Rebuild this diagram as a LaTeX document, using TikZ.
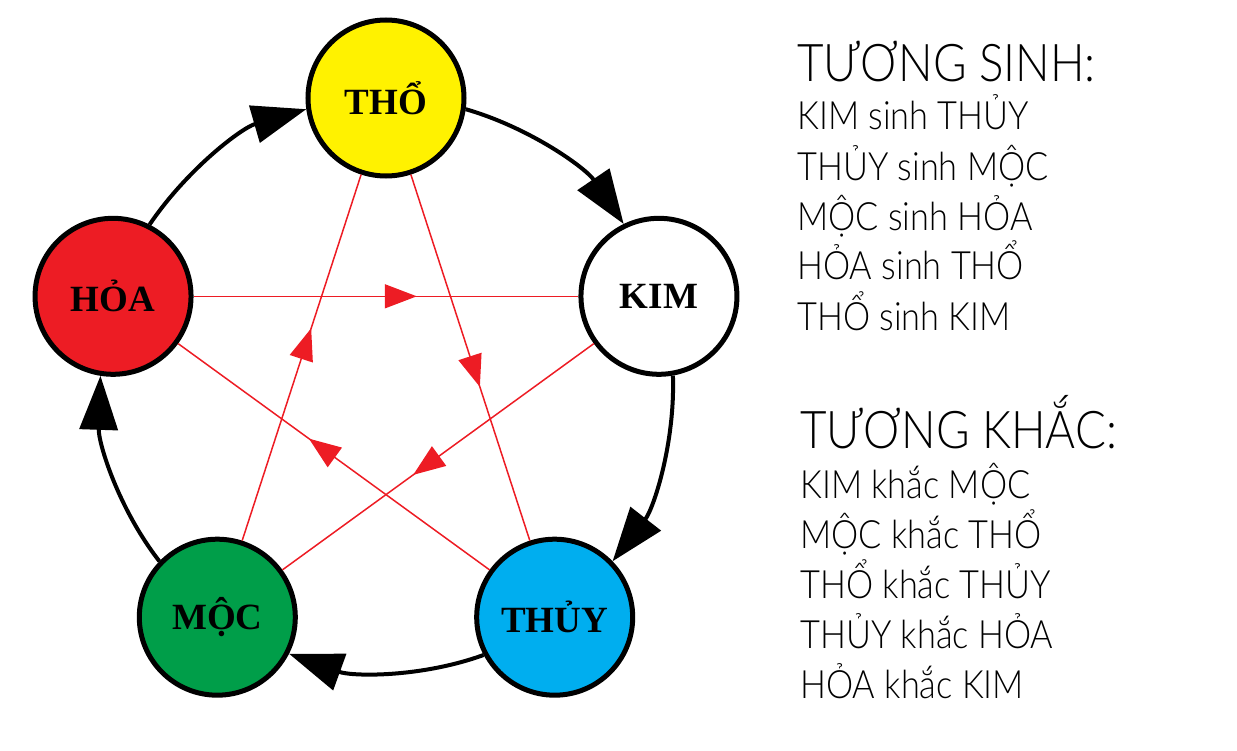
\documentclass[tikz,border=0pt]{standalone}
\usepackage{fontspec}
\setmainfont{Lato}[UprightFont={* Light}, FakeStretch=0.88]
\newfontfamily\elemfont{Liberation Serif}
\usetikzlibrary{arrows.meta,decorations.markings}

\definecolor{thoYellow}{RGB}{255,242,0}
\definecolor{hoaRed}{RGB}{237,28,36}
\definecolor{mocGreen}{RGB}{0,158,73}
\definecolor{thuyBlue}{RGB}{0,174,239}

\begin{document}
\begin{tikzpicture}[x=0.5pt, y=0.5pt,
    elem/.style={circle, draw=black, line width=2.5pt, minimum size=78pt, inner sep=0pt,
        font=\elemfont\bfseries\fontsize{18.5}{20}\selectfont},
    sinh/.style={line width=2pt, -{Triangle[length=27pt,width=19pt]}, looseness=0.88},
    khac/.style={hoaRed, line width=0.75pt, postaction={decorate},
        decoration={markings, mark=at position 0.58 with {\arrow{Triangle[length=16pt,width=12pt]}}}},
    head/.style={anchor=base west, inner sep=0pt, font=\fontsize{26}{30}\selectfont},
    txt/.style={anchor=base west, inner sep=0pt, font=\fontsize{19.5}{22}\selectfont}]
    \useasboundingbox (-386,-365) rectangle (851,385);

    % Five elements
    \foreach \n/\a/\c/\t in {tho/90/thoYellow/THỔ, kim/18/white/KIM, thuy/-54/thuyBlue/THỦY,
                             moc/-126/mocGreen/MỘC, hoa/162/hoaRed/HỎA}
        \node[elem, fill=\c] (\n) at (\a:287) {\t};

    % Tuong khac (star)
    \foreach \a/\b in {kim/moc, moc/tho, tho/thuy, thuy/hoa, hoa/kim}
        \draw[khac] (\a) -- (\b);

    % Tuong sinh (outer circle)
    \foreach \n/\a/\m in {hoa/162/tho, tho/90/kim, kim/18/thuy, thuy/-54/moc, moc/-126/hoa}{
        \pgfmathsetmacro\s{\a-98.05}
        \pgfmathsetmacro\e{\a+26.05}
        \draw[sinh] (\n.\s) to[out=\a-106.1, in=\a+34.1] (\m.\e);
    }

    % Legend
    \node[head] (sinhtitle) at (411,303) {TƯƠNG SINH:};
    \foreach \t [count=\i] in {KIM sinh THỦY, THỦY sinh MỘC, MỘC sinh HỎA, HỎA sinh THỔ, THỔ sinh KIM}
        \node[txt] (sinh\i) at (411,305-50*\i) {\t};

    \node[head] (khactitle) at (414,-63) {TƯƠNG KHẮC:};
    \foreach \t [count=\i] in {KIM khắc MỘC, MỘC khắc THỔ, THỔ khắc THỦY, THỦY khắc HỎA, HỎA khắc KIM}
        \node[txt] (khac\i) at (414,-63-50*\i) {\t};
\end{tikzpicture}
\end{document}
